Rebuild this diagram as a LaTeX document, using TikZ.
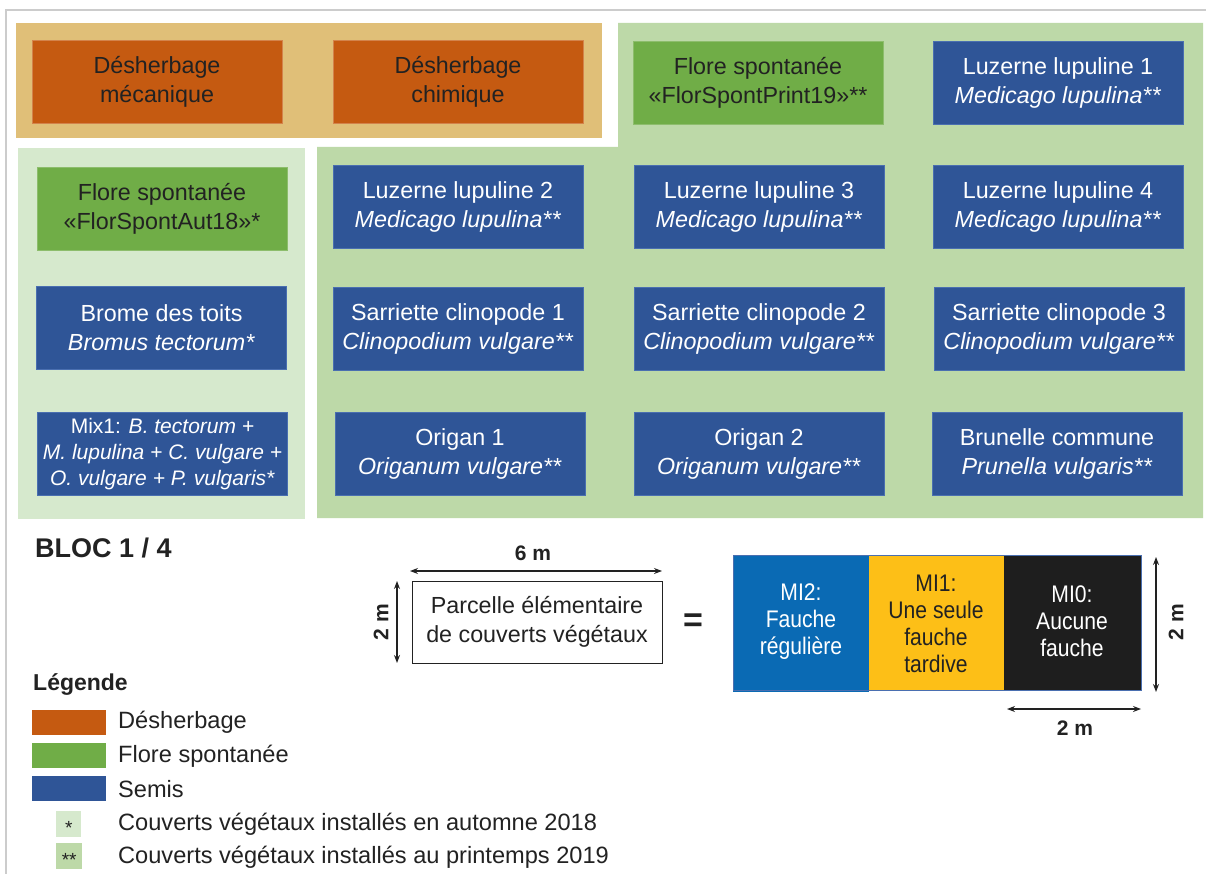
\documentclass[tikz,border=0pt]{standalone}
\usepackage{fontspec}
\setmainfont{Liberation Sans}
\newfontfamily\narrowfont{Liberation Sans}[FakeStretch=0.88]
\usetikzlibrary{arrows.meta}
\definecolor{orangebox}{HTML}{C55A11}
\definecolor{orangebg}{HTML}{E0BF78}
\definecolor{greenbox}{HTML}{70AD47}
\definecolor{bluebox}{HTML}{2F5597}
\definecolor{blueborder}{HTML}{4A6FB0}
\definecolor{lightgreen}{HTML}{D6E9CD}
\definecolor{midgreen}{HTML}{BDD9A8}
\definecolor{darktext}{HTML}{222222}
\definecolor{framegray}{HTML}{CCCCCC}
\definecolor{miblue}{HTML}{0A6AB4}
\definecolor{miyellow}{HTML}{FDBF17}
\definecolor{miblack}{HTML}{1E1E1E}
\begin{document}
\begin{tikzpicture}[x=1pt,y=-1pt,
  cell/.style={minimum width=250pt, minimum height=83pt, inner sep=0pt, align=center, font=\fontsize{23.3}{29}\selectfont, line width=0.8pt},
  desh/.style={cell, fill=orangebox, draw=orangebox!75!white, text=darktext},
  flore/.style={cell, fill=greenbox, draw=greenbox!80!white, text=darktext},
  semis/.style={cell, fill=bluebox, draw=blueborder, text=white},
  lbl/.style={inner sep=0pt, anchor=west, font=\fontsize{23.6}{29}\selectfont, text=darktext},
  dimtxt/.style={inner sep=0pt, font=\bfseries\fontsize{21}{25}\selectfont, text=darktext},
  dimline/.style={{Stealth[length=8pt,width=6pt]}-{Stealth[length=8pt,width=6pt]}, line width=1.2pt, draw=darktext},
  mitxt/.style={inner sep=0pt, align=center, font=\narrowfont\fontsize{24}{27}\selectfont},
  swatch/.style={minimum width=74pt, minimum height=25pt, inner sep=0pt, anchor=north west},
  star/.style={minimum width=25pt, minimum height=26pt, inner sep=0pt, anchor=north west, font=\fontsize{19}{20}\selectfont, text=darktext}]
\useasboundingbox (0,0) rectangle (1206,874);
\fill[white] (0,0) rectangle (1206,874);
% outer frame
\draw[framegray, line width=1.5pt] (6,874) -- (6,10) -- (1206,10);
% backgrounds
\fill[orangebg] (16,23) rectangle (602,138);
\fill[lightgreen] (18,148) rectangle (305,519);
\fill[midgreen] (618,23) -- (1203,23) -- (1203,518) -- (317,518) -- (317,147) -- (618,147) -- cycle;
% row 1
\node[desh] (dmec) at (157,81.5) {Désherbage\\mécanique};
\node[desh] (dchim) at (458,81.5) {Désherbage\\chimique};
\node[flore] (fsp19) at (758,82.5) {Flore spontanée\\«FlorSpontPrint19»**};
\node[semis] (luz1) at (1058,82.5) {Luzerne lupuline 1\\\textit{Medicago lupulina**}};
% row 2
\node[flore] (fsa18) at (162,209) {Flore spontanée\\«FlorSpontAut18»*};
\node[semis] (luz2) at (458,206.5) {Luzerne lupuline 2\\\textit{Medicago lupulina**}};
\node[semis] (luz3) at (759,206.5) {Luzerne lupuline 3\\\textit{Medicago lupulina**}};
\node[semis] (luz4) at (1058,206.5) {Luzerne lupuline 4\\\textit{Medicago lupulina**}};
% row 3
\node[semis] (brome) at (161.5,328) {Brome des toits\\\textit{Bromus tectorum*}};
\node[semis] (sar1) at (458,328.5) {Sarriette clinopode 1\\\textit{Clinopodium vulgare**}};
\node[semis] (sar2) at (759,328.5) {Sarriette clinopode 2\\\textit{Clinopodium vulgare**}};
\node[semis] (sar3) at (1059,328.5) {Sarriette clinopode 3\\\textit{Clinopodium vulgare**}};
% row 4
\node[semis, font=\fontsize{21}{26}\selectfont] (mix) at (162.5,454) {Mix1: \textit{B. tectorum +}\\\textit{M. lupulina + C. vulgare +}\\\textit{O. vulgare + P. vulgaris*}};
\node[semis] (ori1) at (460,454) {Origan 1\\\textit{Origanum vulgare**}};
\node[semis] (ori2) at (759,454) {Origan 2\\\textit{Origanum vulgare**}};
\node[semis] (brun) at (1057,454) {Brunelle commune\\\textit{Prunella vulgaris**}};
% bloc label
\node[inner sep=0pt, anchor=west, font=\bfseries\fontsize{27}{30}\selectfont, text=darktext] (bloc) at (35,548) {BLOC 1 / 4};
% parcelle
\node[draw=darktext, line width=1pt, minimum width=250pt, minimum height=82pt, inner sep=0pt, align=center, font=\fontsize{23.3}{29}\selectfont, text=darktext] (parc) at (537,622) {Parcelle élémentaire\\de couverts végétaux};
\coordinate (h6l) at (410,571);
\coordinate (h6r) at (662,571);
\draw[dimline] (h6l) -- (h6r);
\node[dimtxt] (t6) at (533,553) {6 m};
\coordinate (v2t) at (397,581);
\coordinate (v2b) at (397,663);
\draw[dimline] (v2t) -- (v2b);
\node[dimtxt, rotate=90] (t2l) at (381,622) {2 m};
\node[inner sep=0pt, font=\bfseries\fontsize{34}{36}\selectfont, text=darktext] (eq) at (693,623) {=};
% MI boxes
\fill[miblue] (733,555) rectangle (869,692);
\fill[miyellow] (869,555) rectangle (1004,690);
\fill[miblack] (1004,555) rectangle (1141,690);
\draw[blueborder, line width=1pt] (733,555) rectangle (1141,690);
\node[mitxt, text=white] (mi2) at (801,622) {MI2:\\Fauche\\régulière};
\node[mitxt, text=darktext] (mi1) at (936,624) {MI1:\\Une seule\\fauche\\tardive};
\node[mitxt, text=white] (mi0) at (1072,621.5) {MI0:\\Aucune\\fauche};
\coordinate (vrt) at (1156,557);
\coordinate (vrb) at (1156,692);
\draw[dimline] (vrt) -- (vrb);
\node[dimtxt, rotate=90] (t2r) at (1176,622) {2 m};
\coordinate (hbl) at (1007,709);
\coordinate (hbr) at (1141,709);
\draw[dimline] (hbl) -- (hbr);
\node[dimtxt] (t2b) at (1075,728) {2 m};
% legend
\node[inner sep=0pt, anchor=west, font=\bfseries\fontsize{23}{27}\selectfont, text=darktext] (leg) at (33,684) {Légende};
\node[swatch, fill=orangebox] (sw1) at (32,710) {};
\node[swatch, fill=greenbox] (sw2) at (32,743) {};
\node[swatch, fill=bluebox] (sw3) at (32,776) {};
\node[lbl] (l1) at (118,722.5) {Désherbage};
\node[lbl] (l2) at (118,756) {Flore spontanée};
\node[lbl] (l3) at (118,789) {Semis};
\node[star, fill=lightgreen] (s1) at (56,811) {\smash{\raisebox{-10pt}{*}}};
\node[star, fill=midgreen, minimum width=26pt] (s2) at (56,843) {\smash{\raisebox{-10pt}{**}}};
\node[lbl] (l4) at (118,824) {Couverts végétaux installés en automne 2018};
\node[lbl] (l5) at (118,857) {Couverts végétaux installés au printemps 2019};
\end{tikzpicture}
\end{document}
